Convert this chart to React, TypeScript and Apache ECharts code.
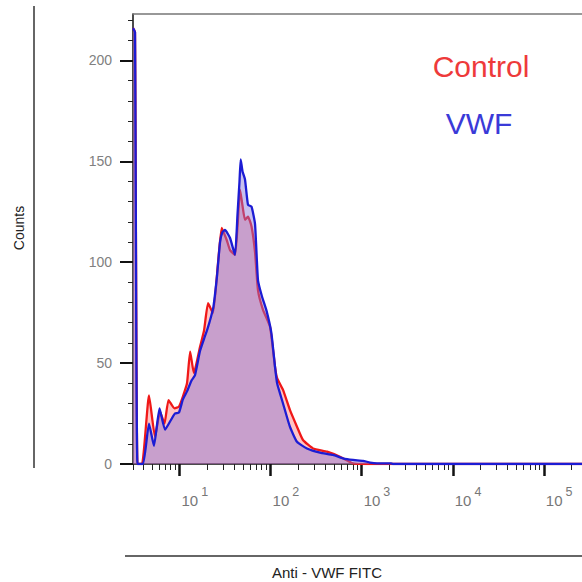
import React, { useEffect, useRef } from "react";
import * as echarts from "echarts";

// ---- axis settings (intensity scale is log10) ----
const X_MIN = 3.09;
const X_MAX = 262144;
const Y_MAX = 223;
const yMajorTicks = [0, 50, 100, 150, 200];
const yMinorTicks = [10, 20, 30, 40, 60, 70, 80, 90, 110, 120, 130, 140, 160, 170, 180, 190, 210, 220];
const xDecadeExponents = [1, 2, 3, 4, 5];
const seriesNames = ["Control", "VWF"];
const xTitle = "Anti - VWF FITC";
const yTitle = "Counts";

// ---- Control (red) histogram: intensity, counts ----
const controlX = [3.09, 3.25, 3.46, 3.88, 4.63, 5.39, 6.12, 6.85, 7.58, 8.82, 9.88, 10.9, 12.1, 13.1, 14.4, 16.8, 18.6, 20.6, 23.3, 26.5, 29.1, 33.0, 35.9, 40.7, 43.4, 46.2, 49.2, 52.4, 56.5, 61.8, 67.5, 72.8, 82.6, 98.6, 112, 118, 137, 163, 195, 227, 292, 417, 578, 803, 1145, 262144];
const controlY = [216, 214, 0, 0, 34, 13.5, 26, 20, 31.7, 27.6, 28.4, 33.4, 40, 55.7, 45, 58, 66, 79.7, 74.7, 99.5, 117, 111, 106, 103.6, 118, 136, 128, 121, 122.6, 117.7, 105, 86, 76.4, 68, 48, 42.5, 36.7, 26.8, 18.5, 11.9, 7.7, 6.1, 3.6, 0.3, 0, 0];

// ---- VWF (blue) histogram: intensity, counts ----
const vwfX = [3.09, 3.25, 3.46, 3.98, 4.63, 5.25, 6.04, 6.94, 7.87, 8.93, 9.88, 10.9, 12.1, 13.6, 14.8, 16.8, 18.6, 20.3, 22.2, 23.6, 25.8, 27.9, 29.7, 31.6, 35.9, 40.7, 43.4, 45.6, 47.0, 49.2, 52.4, 56.5, 61.8, 67.5, 72.8, 80.5, 90.2, 102, 112, 118, 137, 163, 195, 251, 349, 485, 624, 803, 1034, 1234, 1474, 2099, 2208, 262144];
const vwfY = [216, 214, 0, 0, 20, 9, 27.5, 17, 21, 25, 25.5, 32, 36, 41.5, 44, 56, 62, 67, 73, 78, 93, 110, 115, 116, 112, 103.6, 124, 140, 151, 145, 141, 128.5, 127.5, 119, 91, 83, 76, 65, 48, 40, 30, 18.5, 11, 7.7, 5.6, 4.5, 2.8, 2, 1.6, 0.7, 0.3, 0.3, 0, 0];

const FONT = "Liberation Sans, Arial, sans-serif";

export default function App() {
  const ref = useRef<HTMLDivElement>(null);

  useEffect(() => {
    if (!ref.current) return;
    const chart = echarts.init(ref.current, undefined, { renderer: "svg" });
    const lmin = Math.log10(X_MIN);
    const lmax = Math.log10(X_MAX);
    const minorX: number[] = [lmin];
    for (let n = 0; n <= 5; n++) {
      for (let k = 2; k <= 9; k++) {
        const v = Math.log10(k * Math.pow(10, n));
        if (v > lmin && v < lmax) minorX.push(v);
      }
    }
    const toPts = (xs: number[], ys: number[]) => xs.map((x, i) => [Math.log10(x), ys[i]]);

    const hiddenX = (pos: string) => ({
      type: "value",
      min: lmin,
      max: lmax,
      position: pos,
      splitLine: { show: false },
      axisLabel: { show: false },
    });

    chart.setOption({
      animation: false,
      grid: { left: 133, right: 0, top: 14, bottom: 118, containLabel: false },
      xAxis: [
        {
          type: "value",
          min: lmin,
          max: lmax,
          position: "bottom",
          splitLine: { show: false },
          axisLine: { show: true, onZero: false, lineStyle: { color: "#111", width: 1.5 } },
          axisTick: { show: true, customValues: xDecadeExponents, length: 12, lineStyle: { color: "#111", width: 2.5 } },
          axisLabel: {
            show: true,
            customValues: xDecadeExponents,
            align: "left",
            margin: 21,
            formatter: (v: number) => `{b|10}{s|${Math.round(v)}}`,
            rich: {
              b: { fontSize: 15, fontFamily: FONT, color: "#777", lineHeight: 23, verticalAlign: "bottom", padding: [0, 3, 0, 2] },
              s: { fontSize: 12.5, fontFamily: FONT, color: "#777", lineHeight: 23, verticalAlign: "top" },
            },
          },
        },
        {
          ...hiddenX("bottom"),
          axisLine: { show: false, onZero: false },
          axisTick: { show: true, customValues: minorX, length: 6, lineStyle: { color: "#222", width: 1 } },
        },
        {
          ...hiddenX("top"),
          axisLine: { show: true, onZero: false, lineStyle: { color: "#777", width: 1.5 } },
          axisTick: { show: false },
        },
      ],
      yAxis: [
        {
          type: "value",
          min: 0,
          max: Y_MAX,
          position: "left",
          splitLine: { show: false },
          axisLine: { show: true, onZero: false, lineStyle: { color: "#111", width: 1.5 } },
          axisTick: { show: true, customValues: yMajorTicks, length: 13, lineStyle: { color: "#111", width: 2 } },
          axisLabel: { customValues: yMajorTicks, margin: 21, color: "#808080", fontSize: 14, fontFamily: FONT },
        },
        {
          type: "value",
          min: 0,
          max: Y_MAX,
          position: "left",
          splitLine: { show: false },
          axisLine: { show: false, onZero: false },
          axisTick: { show: true, customValues: yMinorTicks, length: 5, lineStyle: { color: "#222", width: 1 } },
          axisLabel: { show: false },
        },
      ],
      series: [
        {
          type: "line",
          name: seriesNames[0],
          data: toPts(controlX, controlY),
          symbol: "none",
          smooth: 0.15,
          lineStyle: { color: "#f01818", width: 2.3 },
          areaStyle: { color: "rgba(255,60,60,0.3)", opacity: 1 },
          z: 2,
        },
        {
          type: "line",
          name: seriesNames[1],
          data: toPts(vwfX, vwfY),
          symbol: "none",
          smooth: 0.15,
          lineStyle: { color: "#1c1cd4", width: 2.3 },
          areaStyle: { color: "rgba(133,115,215,0.45)", opacity: 1 },
          z: 3,
        },
      ],
      graphic: [
        {
          type: "text",
          x: 481,
          y: 66,
          style: { text: seriesNames[0], fill: "#ee3a3a", font: `30px ${FONT}`, textAlign: "center", textVerticalAlign: "middle" },
        },
        {
          type: "text",
          x: 479,
          y: 123,
          style: { text: seriesNames[1], fill: "#3a3ad8", font: `30px ${FONT}`, textAlign: "center", textVerticalAlign: "middle" },
        },
        {
          type: "text",
          x: 19,
          y: 228,
          rotation: Math.PI / 2,
          style: { text: yTitle, fill: "#222", font: `14px ${FONT}`, textAlign: "center", textVerticalAlign: "middle" },
        },
        {
          type: "text",
          x: 327,
          y: 572,
          style: { text: xTitle, fill: "#222", font: `15px ${FONT}`, textAlign: "center", textVerticalAlign: "middle" },
        },
        {
          type: "line",
          shape: { x1: 34, y1: 6, x2: 34, y2: 468 },
          style: { stroke: "#333", lineWidth: 1.5 },
        },
        {
          type: "line",
          shape: { x1: 125, y1: 556, x2: 582, y2: 556 },
          style: { stroke: "#333", lineWidth: 1.5 },
        },
      ],
    });
    return () => chart.dispose();
  }, []);

  return (
    <div
      ref={ref}
      style={{ position: "fixed", left: 0, top: 0, width: 582, height: 582, background: "#fff" }}
    />
  );
}
